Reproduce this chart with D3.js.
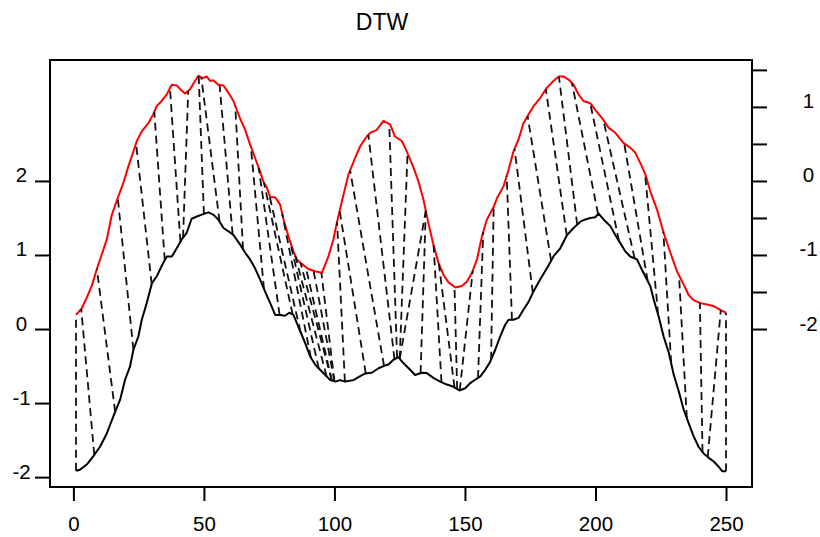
<!DOCTYPE html>
<html>
<head>
<meta charset="utf-8">
<script src="https://cdn.jsdelivr.net/npm/d3@7"></script>
<style>
  html, body { margin: 0; padding: 0; background: #fff; }
  svg { display: block; }
  text { font-family: "Liberation Sans", Arial, Helvetica, sans-serif; fill: #000; }
</style>
</head>
<body>
<svg id="chart" width="820" height="537"></svg>
<script>
// ---------------- data ----------------
const title = "DTW";
const offset = 2;

// query series (black)
const queryIdx = [1,2.5,5.1,7.6,10.2,12.8,15.3,17.9,19.8,21.7,23,24.9,26.2,28.1,30.1,31.9,33.8,35.8,37.7,39.6,41.5,43.4,45.3,47.3,49.2,51.7,53.6,55.5,57.5,59.4,61.3,63.9,65.8,67.7,69.6,71.5,73.4,75.4,77.3,79.2,81.1,82.7,84.3,85.6,86.9,88.8,90.7,92.6,94.5,96.5,98.4,100.3,102.2,104.1,107.3,109.2,111.8,114.3,116.9,118.8,120.7,122.6,124.5,126.4,129,130.9,133.5,135.4,137.9,140.5,143.1,145.6,147.9,150.1,152,153.9,155.9,157.8,159.7,161.6,163.5,165.4,166.7,168.6,170.5,172.4,174.4,176.3,178.8,181.4,183.9,186.5,189.1,191.6,194.2,196.1,198,199.9,201.2,203.1,205.7,207.6,209.5,211.4,213.3,215.9,217.8,219.7,221,222.3,224.2,226.1,228.1,230,231.9,233.8,235.7,237.6,239.5,241.4,243.4,245.3,247.2,248.5,250];
const queryVal = [-1.915,-1.9,-1.83,-1.72,-1.59,-1.41,-1.18,-0.955,-0.685,-0.505,-0.28,-0.1,0.126,0.35,0.62,0.71,0.85,0.98,0.98,1.09,1.21,1.3,1.49,1.52,1.545,1.575,1.545,1.48,1.365,1.32,1.27,1.14,1.03,0.94,0.82,0.67,0.51,0.35,0.19,0.19,0.18,0.22,0.19,0.08,-0.03,-0.19,-0.37,-0.48,-0.55,-0.62,-0.69,-0.71,-0.69,-0.71,-0.69,-0.65,-0.6,-0.59,-0.53,-0.5,-0.48,-0.415,-0.38,-0.46,-0.55,-0.62,-0.59,-0.595,-0.66,-0.71,-0.75,-0.78,-0.83,-0.8,-0.73,-0.685,-0.64,-0.55,-0.44,-0.28,-0.1,0.058,0.126,0.126,0.15,0.26,0.37,0.51,0.67,0.82,0.98,1.09,1.27,1.365,1.45,1.48,1.5,1.51,1.56,1.48,1.39,1.27,1.16,1.05,0.98,0.94,0.8,0.67,0.58,0.4,0.17,-0.1,-0.32,-0.62,-0.84,-1.09,-1.27,-1.45,-1.59,-1.68,-1.74,-1.79,-1.86,-1.92,-1.92];

// reference series (red, drawn shifted by offset)
const refIdx = [1,3.2,5.1,7,8.9,10.8,12.8,14.7,15.9,17.2,19.1,21.1,23,24.3,26.2,28.7,30.6,31.9,33.8,35.8,37.7,39.6,40.9,42.8,44.7,46.6,47.9,49.6,51.1,52.4,53.6,55.5,57.5,59.4,61.3,63.9,65.8,67.7,69.6,71.5,72.8,74.1,75.4,77.3,79.2,80.5,82.4,84.3,85.6,87.5,90,92.6,95.2,97.7,99.6,100.9,102.8,105.4,107.9,109.9,112.4,113.7,116.2,118.8,121.4,123.2,125.8,127.7,130.3,132.2,134.1,136,137.9,139.9,141.8,143.7,146.3,148.8,150.7,152.7,154.6,156.5,158.4,160.9,162.3,164.8,166.7,168.6,170.5,172.4,174.4,176.3,178.8,181.4,183.9,185.9,187.8,189.7,191.6,193.5,195.4,198,199.9,202.5,205,207.6,210.8,213.3,215.3,217.2,219.1,221,223.6,226.1,228.7,231.2,233.8,235.7,237.6,240.2,242.7,245.3,247.8,250];
const refVal = [-1.81,-1.72,-1.58,-1.42,-1.2,-1,-0.79,-0.46,-0.34,-0.21,-0.03,0.2,0.4,0.54,0.67,0.78,0.9,1.01,1.08,1.17,1.3,1.29,1.24,1.18,1.24,1.35,1.42,1.39,1.41,1.35,1.36,1.3,1.29,1.19,1.08,0.84,0.69,0.49,0.31,0.13,-0.01,-0.09,-0.22,-0.22,-0.32,-0.52,-0.75,-0.95,-1.06,-1.12,-1.19,-1.22,-1.24,-1.02,-0.79,-0.57,-0.28,0.09,0.31,0.47,0.6,0.65,0.69,0.81,0.76,0.6,0.54,0.4,0.18,-0.01,-0.25,-0.57,-0.86,-1.11,-1.27,-1.37,-1.44,-1.42,-1.36,-1.24,-1.06,-0.75,-0.52,-0.36,-0.23,-0.07,0.15,0.4,0.56,0.78,0.9,1.01,1.12,1.26,1.35,1.41,1.41,1.37,1.3,1.17,1.08,1.05,0.96,0.85,0.72,0.65,0.51,0.45,0.38,0.24,0.09,-0.14,-0.39,-0.7,-0.97,-1.22,-1.4,-1.54,-1.61,-1.65,-1.67,-1.69,-1.74,-1.78];

// warping-path matches shown as dashed segments: query index -> reference index
const matchQuery = [1,8,16,23,30,35,41,42,50,56,61,65,73,79,84,87,91,94,97,99,99,100,100,104,112,119,123,124,125,125,133,141,146,147,148,155,160,168,176,183,189,193,201,209,215,220,224,229,235,241,243,250];
const matchRef   = [1,3,9,17,24,31,37,44,48,49,56,62,68,71,73,75,80,83,85,87,89,92,95,101,102,106,113,121,128,135,135,138,140,146,153,157,161,166,169,174,181,186,191,198,203,211,219,226,232,240,248,250];

const xTicks = [0,50,100,150,200,250];
const leftTicks = [-2,-1,0,1,2];
const rightTicks = [-2,-1.5,-1,-0.5,0,0.5,1,1.5];

// ---------------- layout ----------------
const W = 820, H = 537;
const box = {left: 50, right: 752, top: 60, bottom: 487};
const svg = d3.select("#chart");
const FONT = '"Liberation Sans", Arial, sans-serif';

function extend(ext) { const d = (ext[1] - ext[0]) * 0.04; return [ext[0] - d, ext[1] + d]; }
const fmt = d => String(d);   // plain hyphen-minus like the reference

const allX = queryIdx.concat(refIdx);
const allY = queryVal.concat(refVal.map(v => v + offset));
const x = d3.scaleLinear().domain(extend(d3.extent(allX))).range([box.left, box.right]);
const y = d3.scaleLinear().domain(extend(d3.extent(allY))).range([box.bottom, box.top]);

// value on a drawn polyline at an index
function valueAt(idx, val, t) {
  if (t <= idx[0]) return val[0];
  for (let k = 1; k < idx.length; k++) {
    if (t <= idx[k]) {
      const f = (t - idx[k-1]) / (idx[k] - idx[k-1]);
      return val[k-1] + f * (val[k] - val[k-1]);
    }
  }
  return val[val.length - 1];
}

// ---------------- series ----------------
const line = d3.line().x(d => x(d[0])).y(d => y(d[1]));
const qData = queryIdx.map((t, k) => [t, queryVal[k]]);
const rData = refIdx.map((t, k) => [t, refVal[k] + offset]);

svg.append("path").attr("d", line(qData)).attr("fill", "none")
  .attr("stroke", "#000").attr("stroke-width", 2).attr("stroke-linejoin", "round");
svg.append("path").attr("d", line(rData)).attr("fill", "none")
  .attr("stroke", "#ff0000").attr("stroke-width", 2).attr("stroke-linejoin", "round");

// matches
svg.append("g").selectAll("line").data(matchQuery.map((q, k) => [q, matchRef[k]])).join("line")
  .attr("x1", d => x(d[0])).attr("y1", d => y(valueAt(queryIdx, queryVal, d[0])))
  .attr("x2", d => x(d[1])).attr("y2", d => y(valueAt(refIdx, refVal, d[1]) + offset))
  .attr("stroke", "#111").attr("stroke-width", 1.8).attr("stroke-dasharray", "8,5");

// ---------------- box & axes ----------------
svg.append("rect").attr("x", box.left).attr("y", box.top)
  .attr("width", box.right - box.left).attr("height", box.bottom - box.top)
  .attr("fill", "none").attr("stroke", "#000").attr("stroke-width", 2);

const fs = 20.5;
const gx = svg.append("g").attr("transform", `translate(0,${box.bottom})`)
  .call(d3.axisBottom(x).tickValues(xTicks).tickSize(14).tickFormat(fmt));
gx.select(".domain").remove();
gx.selectAll("line").attr("stroke-width", 2);
gx.selectAll("text").attr("y", 44).attr("dy", 0).style("font-size", fs + "px").style("font-family", FONT);

const gl = svg.append("g").attr("transform", `translate(${box.left},0)`)
  .call(d3.axisLeft(y).tickValues(leftTicks).tickSize(15).tickFormat(fmt));
gl.select(".domain").remove();
gl.selectAll("line").attr("stroke-width", 2);
gl.selectAll("text").attr("x", -28.5).attr("dy", 0).attr("y", 1).attr("text-anchor", "middle")
  .style("font-size", fs + "px").style("font-family", FONT);

const gr = svg.append("g").attr("transform", `translate(${box.right},0)`)
  .call(d3.axisRight(y.copy().domain(y.domain().map(v => v - offset))).tickValues(rightTicks).tickSize(15)
    .tickFormat(d => Number.isInteger(d) ? fmt(d) : ""));
gr.select(".domain").remove();
gr.selectAll("line").attr("stroke-width", 2);
gr.selectAll("text").attr("x", 56.5).attr("dy", 0).attr("y", 1).attr("text-anchor", "middle")
  .style("font-size", fs + "px").style("font-family", FONT);

svg.selectAll(".tick text").attr("fill", "#000");
svg.selectAll(".tick line").attr("stroke", "#000");

// title
svg.append("text").attr("x", 382).attr("y", 30).attr("text-anchor", "middle")
  .style("font-size", "23px").style("font-family", FONT).text(title);
</script>
</body>
</html>
